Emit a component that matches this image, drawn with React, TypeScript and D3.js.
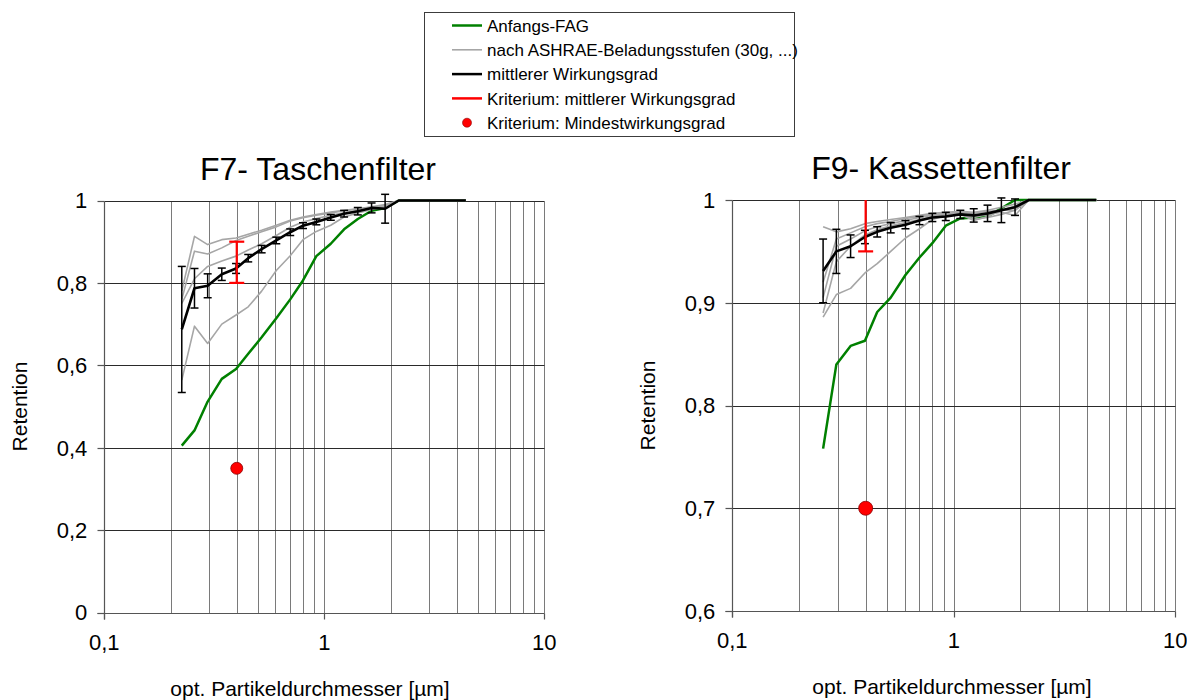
import React from 'react';
import * as d3 from 'd3';

// ---------- DATA ----------
const f7Sizes = [0.225, 0.257, 0.295, 0.342, 0.397, 0.451, 0.519, 0.605, 0.70, 0.80, 0.92, 1.07, 1.23, 1.42, 1.64, 1.89, 2.18, 2.52, 2.9, 3.35, 3.85, 4.4];
const f7Initial = [0.405, 0.442, 0.512, 0.567, 0.591, 0.628, 0.668, 0.714, 0.76, 0.806, 0.865, 0.895, 0.93, 0.955, 0.975, 0.982, 1, 1, 1, 1, 1, 1];
const f7Loaded1 = [0.78, 0.913, 0.893, 0.905, 0.909, 0.918, 0.928, 0.94, 0.952, 0.96, 0.966, 0.972, 0.976, 0.98, 0.985, 0.99, 1, 1, 1, 1, 1, 1];
const f7Loaded2 = [0.76, 0.877, 0.87, 0.885, 0.903, 0.913, 0.924, 0.936, 0.95, 0.958, 0.964, 0.97, 0.975, 0.979, 0.983, 0.988, 1, 1, 1, 1, 1, 1];
const f7Loaded3 = [0.75, 0.81, 0.84, 0.853, 0.865, 0.88, 0.895, 0.915, 0.935, 0.948, 0.956, 0.964, 0.97, 0.975, 0.98, 0.985, 1, 1, 1, 1, 1, 1];
const f7Loaded4 = [0.564, 0.695, 0.653, 0.70, 0.722, 0.742, 0.78, 0.83, 0.866, 0.905, 0.925, 0.94, 0.96, 0.97, 0.978, 0.984, 1, 1, 1, 1, 1, 1];
const f7Mean = [0.687, 0.787, 0.793, 0.821, 0.835, 0.86, 0.882, 0.903, 0.923, 0.939, 0.948, 0.959, 0.968, 0.974, 0.982, 0.98, 1, 1, 1, 1, 1, 1];
const f7Err = [0.153, 0.048, 0.029, 0.015, 0.012, 0.009, 0.009, 0.008, 0.008, 0.007, 0.007, 0.007, 0.008, 0.009, 0.012, 0.035, 0, 0, 0, 0, 0, 0];

const f9Sizes = [0.257, 0.295, 0.342, 0.397, 0.451, 0.519, 0.605, 0.70, 0.80, 0.92, 1.07, 1.23, 1.42, 1.64, 1.89, 2.18, 2.52, 2.9, 3.35, 3.85, 4.4];
const f9Initial = [0.758, 0.840, 0.858, 0.863, 0.891, 0.905, 0.927, 0.944, 0.958, 0.975, 0.982, 0.983, 0.984, 0.992, 1, 1, 1, 1, 1, 1, 1];
const f9Loaded1 = [0.974, 0.969, 0.972, 0.977, 0.979, 0.981, 0.983, 0.985, 0.987, 0.988, 0.989, 0.988, 0.99, 0.993, 0.996, 1, 1, 1, 1, 1, 1];
const f9Loaded2 = [0.92, 0.962, 0.968, 0.974, 0.977, 0.979, 0.982, 0.984, 0.986, 0.987, 0.988, 0.987, 0.989, 0.99, 0.994, 1, 1, 1, 1, 1, 1];
const f9Loaded3 = [0.905, 0.955, 0.962, 0.97, 0.974, 0.977, 0.98, 0.983, 0.985, 0.986, 0.987, 0.983, 0.986, 0.988, 0.985, 1, 1, 1, 1, 1, 1];
const f9Loaded4 = [0.89, 0.94, 0.955, 0.966, 0.971, 0.975, 0.978, 0.981, 0.984, 0.985, 0.986, 0.98, 0.984, 0.99, 0.99, 1, 1, 1, 1, 1, 1];
const f9Loaded5 = [0.886, 0.908, 0.914, 0.929, 0.938, 0.95, 0.963, 0.972, 0.981, 0.985, 0.987, 0.981, 0.983, 0.986, 0.99, 1, 1, 1, 1, 1, 1];
const f9Mean = [0.931, 0.950, 0.955, 0.964, 0.969, 0.973, 0.976, 0.980, 0.983, 0.984, 0.986, 0.985, 0.987, 0.990, 0.993, 1, 1, 1, 1, 1, 1];
const f9Err = [0.031, 0.0215, 0.011, 0.0065, 0.005, 0.005, 0.004, 0.004, 0.004, 0.004, 0.004, 0.0065, 0.008, 0.012, 0.008, 0, 0, 0, 0, 0, 0];

const criterionSize = 0.4;
const f7CritMeanRange = [0.8, 0.9];
const f7CritMin = 0.35;
const f9CritMeanRange = [0.95, 1.0];
const f9CritMin = 0.70;

const xTickValues = [0.1, 1, 10];
const xTickLabels = ['0,1', '1', '10'];
const f7YTicks = [0, 0.2, 0.4, 0.6, 0.8, 1];
const f7YLabels = ['0', '0,2', '0,4', '0,6', '0,8', '1'];
const f9YTicks = [0.6, 0.7, 0.8, 0.9, 1];
const f9YLabels = ['0,6', '0,7', '0,8', '0,9', '1'];

const legendLabels = [
  'Anfangs-FAG',
  'nach ASHRAE-Beladungsstufen (30g, ...)',
  'mittlerer Wirkungsgrad',
  'Kriterium: mittlerer Wirkungsgrad',
  'Kriterium: Mindestwirkungsgrad',
];

const FONT = "'Liberation Sans', Arial, Helvetica, sans-serif";
const GREEN = '#008000';
const GRAY = '#a6a6a6';
const RED = '#ff0000';

type PanelSpec = {
  title: string;
  titleX: number;
  xRange: [number, number];
  yRange: [number, number];
  yDomain: [number, number];
  yTicks: number[];
  yLabels: string[];
  sizes: number[];
  initial: number[];
  loaded: number[][];
  mean: number[];
  err: number[];
  critRange: number[];
  critMin: number;
  dotR: number;
  yTitleX: number;
  xTitleX: number;
};

const crisp = (v: number) => Math.round(v) + 0.5;

function Panel({ s }: { s: PanelSpec }) {
  const x = d3.scaleLog().domain([0.1, 10]).range(s.xRange);
  const y = d3.scaleLinear().domain(s.yDomain).range(s.yRange);
  const line = d3
    .line<number>()
    .x((_, i) => x(s.sizes[i]))
    .y((d) => y(d));
  const [x0, x1] = s.xRange;
  const [yb, yt] = s.yRange;
  const gridX = x.ticks().filter((v) => v > 0.1 + 1e-9);
  const cx = x(criterionSize);
  const critTop = s.critRange[1];
  const ax = crisp(x0);
  const ay = crisp(yb);
  return (
    <g>
      {/* vertical grid */}
      {gridX.map((v, i) => (
        <line key={'gx' + i} x1={crisp(x(v))} x2={crisp(x(v))} y1={crisp(yt)} y2={ay} stroke="#7a7a7a" strokeWidth={1} />
      ))}
      {/* horizontal grid */}
      {s.yTicks.slice(1).map((v, i) => (
        <line key={'gy' + i} x1={ax} x2={crisp(x1)} y1={crisp(y(v))} y2={crisp(y(v))} stroke="#2a2a2a" strokeWidth={1} />
      ))}
      {/* axes */}
      <line x1={ax} x2={ax} y1={crisp(yt)} y2={ay + 6} stroke="#555" strokeWidth={1.2} />
      <line x1={ax - 7} x2={crisp(x1)} y1={ay} y2={ay} stroke="#555" strokeWidth={1.2} />
      {s.yTicks.map((v, i) => (
        <line key={'yt' + i} x1={ax - 7} x2={ax} y1={crisp(y(v))} y2={crisp(y(v))} stroke="#555" strokeWidth={1.2} />
      ))}
      {xTickValues.map((v, i) => (
        <line key={'xt' + i} x1={crisp(x(v))} x2={crisp(x(v))} y1={ay} y2={ay + 6} stroke="#555" strokeWidth={1.2} />
      ))}
      {/* tick labels */}
      {s.yTicks.map((v, i) => (
        <text key={'yl' + i} x={x0 - 17} y={y(v)} dy="0.36em" textAnchor="end" fontSize={22} fontFamily={FONT} fill="#000">
          {s.yLabels[i]}
        </text>
      ))}
      {xTickValues.map((v, i) => (
        <text key={'xl' + i} x={x(v)} y={yb + 37} textAnchor="middle" fontSize={22} fontFamily={FONT} fill="#000">
          {xTickLabels[i]}
        </text>
      ))}
      {/* titles */}
      <text x={s.titleX} y={yt - 21} textAnchor="middle" fontSize={32} fontFamily={FONT} fill="#000">
        {s.title}
      </text>
      <text x={s.xTitleX} y={yb + 83} textAnchor="middle" fontSize={21} fontFamily={FONT} fill="#000">
        opt. Partikeldurchmesser [µm]
      </text>
      <text
        transform={`translate(${s.yTitleX},${(yt + yb) / 2}) rotate(-90)`}
        textAnchor="middle"
        fontSize={21}
        fontFamily={FONT}
        fill="#000"
      >
        Retention
      </text>
      {/* series */}
      <path d={line(s.initial) || ''} fill="none" stroke={GREEN} strokeWidth={2.5} strokeLinejoin="round" />
      {s.loaded.map((arr, i) => (
        <path key={'ld' + i} d={line(arr) || ''} fill="none" stroke={GRAY} strokeWidth={1.6} strokeLinejoin="round" />
      ))}
      <path d={line(s.mean) || ''} fill="none" stroke="#000" strokeWidth={2.6} strokeLinejoin="round" />
      {s.err.map((e, i) => {
        if (!e) return null;
        const px = x(s.sizes[i]);
        const ya = y(s.mean[i] + e);
        const yb2 = y(s.mean[i] - e);
        return (
          <g key={'eb' + i} stroke="#000" strokeWidth={1.5}>
            <line x1={px} x2={px} y1={ya} y2={yb2} />
            <line x1={px - 4} x2={px + 4} y1={ya} y2={ya} />
            <line x1={px - 4} x2={px + 4} y1={yb2} y2={yb2} />
          </g>
        );
      })}
      {/* criterion mean */}
      <g stroke={RED} strokeWidth={2.2}>
        <line x1={cx} x2={cx} y1={y(s.critRange[0])} y2={y(critTop)} />
        <line x1={cx - 7.5} x2={cx + 7.5} y1={y(s.critRange[0])} y2={y(s.critRange[0])} />
        {critTop < s.yDomain[1] && <line x1={cx - 7.5} x2={cx + 7.5} y1={y(critTop)} y2={y(critTop)} />}
      </g>
      <circle cx={cx} cy={y(s.critMin)} r={s.dotR} fill={RED} stroke="#8a0000" strokeWidth={0.8} />
    </g>
  );
}

function Legend() {
  const lx = 424.5;
  const ly = 12.5;
  const rowY = (i: number) => 25.5 + i * 24.3;
  const colors = [GREEN, GRAY, '#000', RED];
  return (
    <g>
      <rect x={lx} y={ly} width={370} height={124} fill="#fff" stroke="#3c3c3c" strokeWidth={1} />
      {legendLabels.map((lab, i) => (
        <g key={'lg' + i}>
          {i < 4 ? (
            <line x1={452} x2={482} y1={rowY(i)} y2={rowY(i)} stroke={colors[i]} strokeWidth={i === 1 ? 1.6 : 2.5} />
          ) : (
            <circle cx={467} cy={rowY(i)} r={4.5} fill={RED} stroke="#8a0000" strokeWidth={0.6} />
          )}
          <text x={487} y={rowY(i)} dy="0.36em" fontSize={17} fontFamily={FONT} fill="#000">
            {lab}
          </text>
        </g>
      ))}
    </g>
  );
}

export default function App() {
  const f7: PanelSpec = {
    title: 'F7- Taschenfilter',
    titleX: 318,
    xRange: [104.3, 544.3],
    yRange: [612.5, 200.5],
    yDomain: [0, 1],
    yTicks: f7YTicks,
    yLabels: f7YLabels,
    sizes: f7Sizes,
    initial: f7Initial,
    loaded: [f7Loaded1, f7Loaded2, f7Loaded3, f7Loaded4],
    mean: f7Mean,
    err: f7Err,
    critRange: f7CritMeanRange,
    critMin: f7CritMin,
    dotR: 6,
    yTitleX: 27,
    xTitleX: 310,
  };
  const f9: PanelSpec = {
    title: 'F9- Kassettenfilter',
    titleX: 941,
    xRange: [732.3, 1175.3],
    yRange: [611, 200],
    yDomain: [0.6, 1],
    yTicks: f9YTicks,
    yLabels: f9YLabels,
    sizes: f9Sizes,
    initial: f9Initial,
    loaded: [f9Loaded1, f9Loaded2, f9Loaded3, f9Loaded4, f9Loaded5],
    mean: f9Mean,
    err: f9Err,
    critRange: f9CritMeanRange,
    critMin: f9CritMin,
    dotR: 7,
    yTitleX: 655,
    xTitleX: 952,
  };
  return (
    <svg width={1187} height={700} style={{ position: 'absolute', left: 0, top: 0, background: '#fff' }}>
      <rect x={0} y={0} width={1187} height={700} fill="#fff" />
      <Legend />
      <Panel s={f7} />
      <Panel s={f9} />
    </svg>
  );
}
